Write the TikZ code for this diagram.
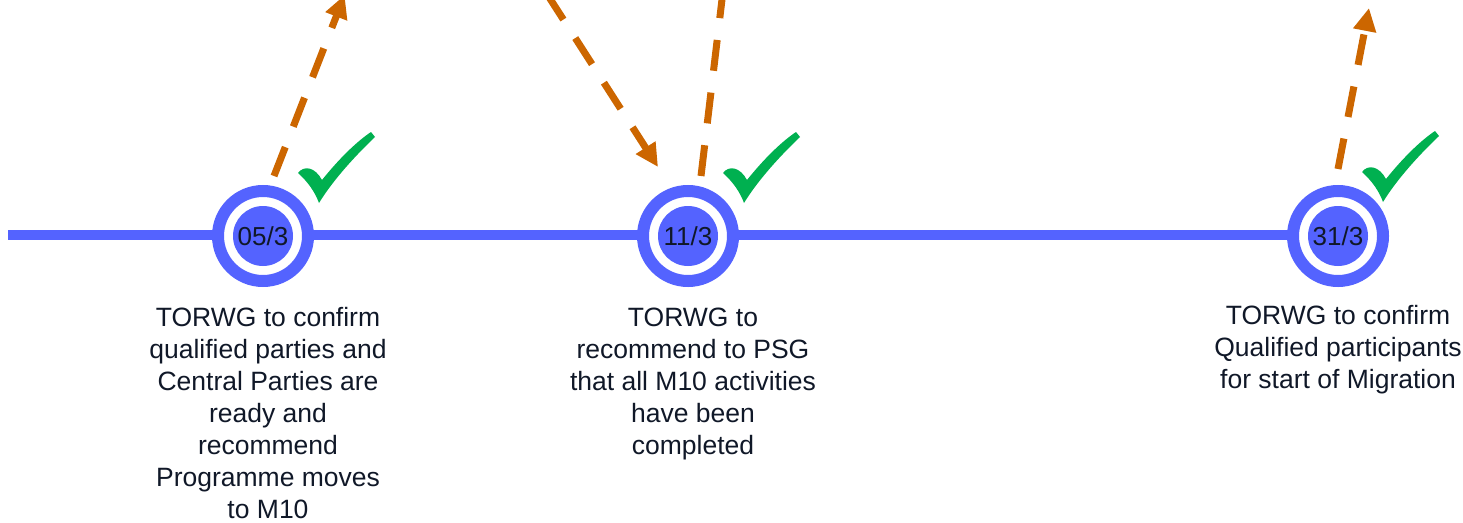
\documentclass[tikz,border=0pt]{standalone}
\usepackage{fontspec}
\setmainfont{Liberation Sans}
\usetikzlibrary{arrows.meta}
\pgfdeclarelayer{background}
\pgfsetlayers{background,main}
\definecolor{tlblue}{RGB}{84,99,255}
\definecolor{arrorange}{RGB}{204,102,0}
\definecolor{checkgreen}{RGB}{0,176,80}
\definecolor{txtc}{RGB}{16,24,40}
\tikzset{
  ring/.style={circle, draw=tlblue, line width=12pt, fill=white, minimum size=90pt, inner sep=0pt,
    path picture={\fill[tlblue] (path picture bounding box.center) circle (30pt);},
    font=\fontsize{26}{30}\selectfont, text=txtc},
  desc/.style={align=center, font=\fontsize{26.5}{32}\selectfont, text=txtc, inner sep=0pt, anchor=north},
  flow/.style={draw=arrorange, line width=7pt, dash pattern=on 31pt off 22pt},
  flowhead/.style={flow, -{Triangle[length=23pt,width=22pt]}},
  checkmk/.pic={\fill[checkgreen] (-20,-29) .. controls (-14,-37) and (-3,-35) .. (4,-22)
      .. controls (20,-42) and (38,-60) .. (53,-70) -- (57,-65)
      .. controls (38,-47) and (15,-22) .. (1,1)
      .. controls (-3,-10) and (-10,-20) .. (-20,-29) -- cycle;}
}
\begin{document}
\begin{tikzpicture}[x=1pt,y=-1pt]
\useasboundingbox (0,0) rectangle (1463,522);
\clip (0,0) rectangle (1463,522);
% timeline
\coordinate (tstart) at (8,235);
\node[ring] (c1) at (263,236) {05/3};
\node[ring] (c2) at (688,236) {11/3};
\node[ring] (c3) at (1338,236) {31/3};
\begin{pgfonlayer}{background}
\draw[tlblue, line width=10.5pt] (tstart) -- (c3.center |- tstart);
\end{pgfonlayer}
% checkmarks
\pic at (318,202) {checkmk};
\pic at (743,202) {checkmk};
\pic at (1382,201) {checkmk};
% arrows
\coordinate (a1s) at (274,176);
\coordinate (a1e) at (344.6,-5);
\coordinate (a2s) at (538,-20);
\coordinate (a2e) at (658,167);
\coordinate (a3s) at (701,176);
\coordinate (a3e) at (725.5,-30);
\coordinate (a4s) at (1338,169);
\coordinate (a4e) at (1369,8);
\draw[flowhead] (a1s) -- (a1e);
\draw[flowhead, dash phase=37pt] (a2s) -- (a2e);
\draw[flow] (a3s) -- (a3e);
\draw[flowhead] (a4s) -- (a4e);
% descriptions
\node[desc] (d1) at (268,307.5) {TORWG to confirm\\qualified parties and\\Central Parties are\\ready and\\recommend\\Programme moves\\to M10};
\node[desc] (d2) at (693,307.5) {TORWG to\\recommend to PSG\\that all M10 activities\\have been\\completed};
\node[desc] (d3) at (1338,305.5) {TORWG to confirm\\Qualified participants\\for start of Migration};
\end{tikzpicture}
\end{document}
